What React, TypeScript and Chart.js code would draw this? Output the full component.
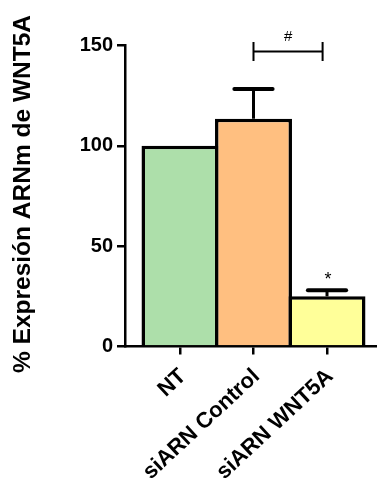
import React, { useEffect, useRef } from "react";
import { Chart, registerables } from "chart.js";

Chart.register(...registerables);

const categories = ["NT", "siARN Control", "siARN WNT5A"];
const means = [100, 113.5, 25];
const errors = [0, 14.8, 3];
const barColors = ["#ADDFAA", "#FFBF80", "#FFFF99"];
const yTicks = [0, 50, 100, 150];
const bracketFrom = [1];
const bracketTo = [1.94];
const bracketY = [147];
const bracketLabels = ["#"];
const starIndex = [2];
const starLabels = ["*"];
const yTitle = "% Expresión ARNm de WNT5A";

const FONT = "'Liberation Sans', Arial, Helvetica, sans-serif";

const annotPlugin = {
  id: "annot",
  afterDatasetsDraw(chart: any) {
    const ctx = chart.ctx;
    const xs = chart.scales.x;
    const ys = chart.scales.y;
    ctx.save();
    ctx.strokeStyle = "#000";
    ctx.fillStyle = "#000";
    const unit = xs.getPixelForValue(1) - xs.getPixelForValue(0);
    means.forEach((m, i) => {
      const e = errors[i];
      if (!e) return;
      const x = xs.getPixelForValue(i);
      const y0 = ys.getPixelForValue(m);
      const y1 = ys.getPixelForValue(m + e);
      ctx.lineCap = "butt";
      ctx.lineWidth = 3;
      ctx.beginPath();
      ctx.moveTo(x, y0);
      ctx.lineTo(x, y1);
      ctx.stroke();
      ctx.lineCap = "round";
      ctx.lineWidth = 4;
      const half = unit * 0.26;
      ctx.beginPath();
      ctx.moveTo(x - half, y1);
      ctx.lineTo(x + half, y1);
      ctx.stroke();
    });
    bracketFrom.forEach((f, i) => {
      const xa = xs.getPixelForValue(f);
      const xb = xs.getPixelForValue(bracketTo[i]);
      const y = ys.getPixelForValue(bracketY[i]);
      const hh = ys.getPixelForValue(bracketY[i]) - ys.getPixelForValue(bracketY[i] + 4.7);
      ctx.lineCap = "butt";
      ctx.lineWidth = 2;
      ctx.beginPath();
      ctx.moveTo(xa, y);
      ctx.lineTo(xb, y);
      ctx.moveTo(xa, y - hh);
      ctx.lineTo(xa, y + hh);
      ctx.moveTo(xb, y - hh);
      ctx.lineTo(xb, y + hh);
      ctx.stroke();
      ctx.font = `15px ${FONT}`;
      ctx.textAlign = "center";
      ctx.textBaseline = "alphabetic";
      ctx.fillText(bracketLabels[i], (xa + xb) / 2, y - 11);
    });
    starIndex.forEach((idx, i) => {
      const x = xs.getPixelForValue(idx);
      const yCap = ys.getPixelForValue(means[idx] + errors[idx]);
      ctx.font = `18px ${FONT}`;
      ctx.textAlign = "center";
      ctx.textBaseline = "alphabetic";
      ctx.fillText(starLabels[i], x + 1, yCap - 5);
    });
    ctx.save();
    const cy = (ys.top + ys.bottom) / 2 - 2;
    ctx.translate(23, cy);
    ctx.rotate(-Math.PI / 2);
    ctx.font = `bold 24.5px ${FONT}`;
    ctx.textAlign = "center";
    ctx.textBaseline = "middle";
    ctx.fillText(yTitle, 0, 0);
    ctx.restore();
    ctx.restore();
  },
};

export default function App() {
  const ref = useRef<HTMLCanvasElement>(null);
  useEffect(() => {
    document.body.style.margin = "0";
    const canvas = ref.current!;
    const chart = new Chart(canvas, {
      type: "bar",
      data: {
        datasets: [
          {
            data: means.map((v, i) => ({ x: i, y: v })) as any,
            backgroundColor: barColors,
            borderColor: "#000",
            borderWidth: 3.5,
            borderSkipped: "start",
            barPercentage: 1.047,
            categoryPercentage: 1,
          },
        ],
      },
      options: {
        responsive: false,
        animation: false,
        events: [],
        layout: { padding: { top: 45.5, left: 0, right: 0, bottom: 0 } },
        plugins: { legend: { display: false }, tooltip: { enabled: false }, title: { display: false } },
        scales: {
          x: {
            type: "linear",
            min: -0.748,
            max: 2.68,
            offset: false,
            z: 1,
            afterBuildTicks: (axis: any) => {
              axis.ticks = categories.map((_, i) => ({ value: i }));
            },
            afterFit: (axis: any) => {
              axis.height = 138.5;
            },
            ticks: {
              autoSkip: false,
              maxRotation: 43,
              minRotation: 43,
              padding: 9,
              labelOffset: 3,
              color: "#000",
              font: { family: FONT, size: 22, weight: "bold" },
              callback: (v: any) => categories[v] ?? "",
            },
            grid: { offset: false, drawOnChartArea: false, drawTicks: true, tickLength: 8, color: "#000", lineWidth: 2.5 },
            border: { display: true, color: "#000", width: 2.5 },
          },
          y: {
            type: "linear",
            min: 0,
            max: 150,
            z: 1,
            afterBuildTicks: (axis: any) => {
              axis.ticks = yTicks.map((v) => ({ value: v }));
            },
            afterFit: (axis: any) => {
              axis.width = 125;
            },
            ticks: {
              padding: 4,
              color: "#000",
              font: { family: FONT, size: 20, weight: "bold" },
            },
            grid: { drawOnChartArea: false, drawTicks: true, tickLength: 8, color: "#000", lineWidth: 2.5 },
            border: { display: true, color: "#000", width: 2.5 },
          },
        },
      },
      plugins: [annotPlugin],
    });
    return () => chart.destroy();
  }, []);
  return (
    <div style={{ position: "absolute", left: 0, top: 0, width: 377, height: 485, background: "#fff" }}>
      <canvas ref={ref} width={377} height={485} style={{ display: "block" }} />
    </div>
  );
}
